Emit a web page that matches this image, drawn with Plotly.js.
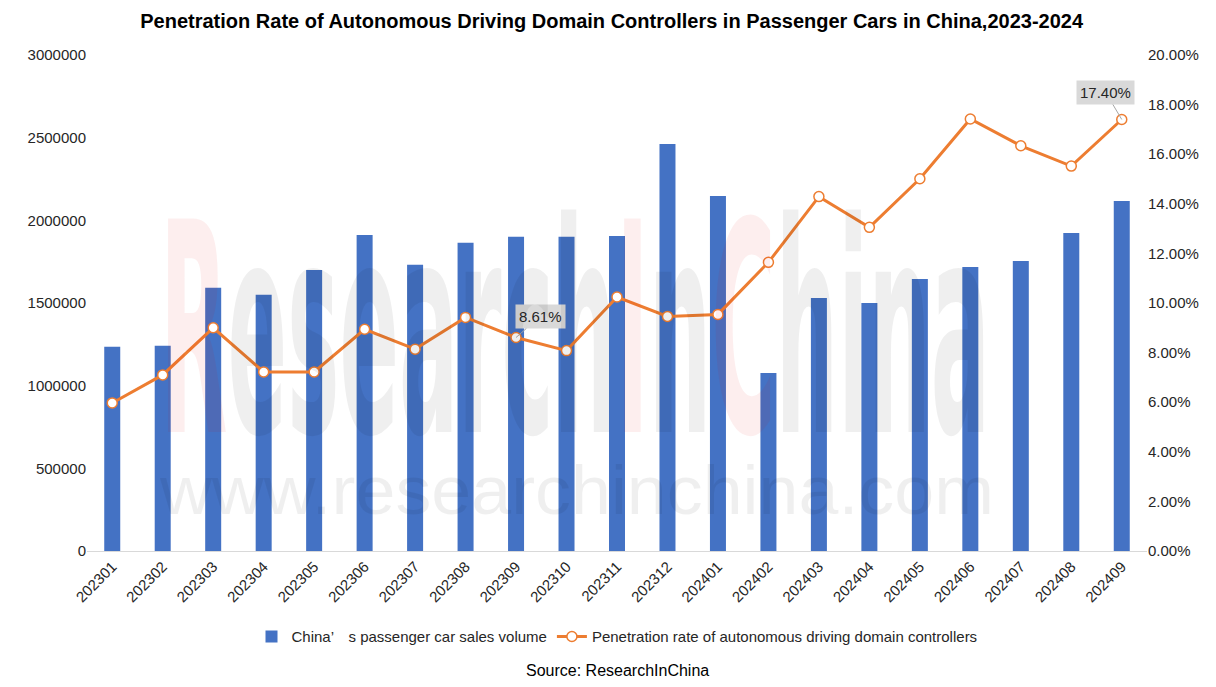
<!DOCTYPE html>
<html>
<head>
<meta charset="utf-8">
<script src="https://cdn.plot.ly/plotly-3.0.1.min.js"></script>
<style>
  html, body { margin: 0; padding: 0; background: #fff; }
  #wrap { position: relative; width: 1216px; height: 687px; }
  #chart { position: absolute; left: 0; top: 0; width: 1216px; height: 687px; }
  #wm { position: absolute; left: 0; top: 0; width: 1216px; height: 687px; pointer-events: none; }
</style>
</head>
<body>
<div id="wrap">
  <div id="chart"></div>
  <svg id="wm" width="1216" height="687" xmlns="http://www.w3.org/2000/svg">
    <text x="160" y="432" textLength="830" lengthAdjust="spacingAndGlyphs"
          font-family="DejaVu Sans Condensed, DejaVu Sans" font-weight="bold" font-size="293"><tspan fill="rgba(220,0,0,0.065)">R</tspan><tspan fill="rgba(0,0,0,0.063)">esearch</tspan><tspan fill="rgba(220,0,0,0.065)">I</tspan><tspan fill="rgba(0,0,0,0.063)">n</tspan><tspan fill="rgba(220,0,0,0.065)">C</tspan><tspan fill="rgba(0,0,0,0.063)">hina</tspan></text>
    <text x="160" y="514" textLength="834" lengthAdjust="spacingAndGlyphs"
          font-family="Liberation Sans, Arial" font-size="68" fill="rgba(0,0,0,0.063)">www.researchinchina.com</text>
  </svg>
</div>
<script>
const categories = ['202301','202302','202303','202304','202305','202306','202307','202308','202309','202310','202311','202312',
                    '202401','202402','202403','202404','202405','202406','202407','202408','202409'];
const salesVolume = [1235000,1242000,1592000,1550000,1700000,1912000,1731000,1864000,1900000,1900000,1905000,2462000,
                     2147000,1077000,1530000,1500000,1645000,1718000,1754000,1923000,2117000];
const penetrationRate = [0.0597,0.0710,0.0900,0.0722,0.0722,0.0894,0.0814,0.0942,0.0861,0.0808,0.1024,0.0946,
                         0.0954,0.1164,0.1429,0.1305,0.1501,0.1742,0.1634,0.1552,0.1740];
const calloutCats = ['202309','202409'];
const calloutVals = [0.0861,0.1740];
const calloutText = ['8.61%','17.40%'];
const seriesNames = ['China\u2019\u3000s passenger car sales volume', 'Penetration rate of autonomous driving domain controllers'];
const titleText = 'Penetration Rate of Autonomous Driving Domain Controllers in Passenger Cars in China,2023-2024';
const sourceText = 'Source: ResearchInChina';

const FONT = 'Liberation Sans, Arial, sans-serif';
const TXT = '#262626';

const traces = [
  {
    type: 'bar', name: seriesNames[0], x: categories, y: salesVolume,
    marker: { color: '#4472C4' }, yaxis: 'y', hoverinfo: 'x+y'
  },
  {
    type: 'scatter', mode: 'lines+markers', name: seriesNames[1], x: categories, y: penetrationRate,
    yaxis: 'y2',
    line: { color: '#ED7D31', width: 3 },
    marker: { size: 10, color: '#ffffff', line: { color: '#ED7D31', width: 1.5 } }
  }
];

const offsets = [[24, -21], [-16, -27]];
const annotations = calloutCats.map((c, i) => ({
  x: categories.indexOf(c), y: calloutVals[i], xref: 'x', yref: 'y2',
  text: calloutText[i], showarrow: true, arrowhead: 0, arrowwidth: 1, arrowcolor: '#a6a6a6',
  ax: offsets[i][0], ay: offsets[i][1],
  bgcolor: '#d9d9d9', borderpad: 3,
  font: { family: FONT, size: 15, color: TXT }
}));
annotations.push({
  text: sourceText, xref: 'paper', yref: 'paper', x: 0.5, y: -0.24,
  xanchor: 'center', yanchor: 'middle', showarrow: false,
  font: { family: FONT, size: 16, color: '#000' }
});

const layout = {
  width: 1216, height: 687,
  margin: { l: 87, r: 69, t: 55, b: 136 },
  paper_bgcolor: 'rgba(0,0,0,0)', plot_bgcolor: 'rgba(0,0,0,0)',
  title: {
    text: '<b>' + titleText + '</b>',
    x: 0.503, xref: 'container', xanchor: 'center',
    y: 1 - 21 / 687, yref: 'container', yanchor: 'middle',
    font: { family: FONT, size: 20, color: '#000' }
  },
  bargap: 0.683,
  showlegend: true,
  legend: {
    orientation: 'h', x: 0.5, xanchor: 'center', y: -0.173, yanchor: 'middle',
    font: { family: FONT, size: 15, color: TXT }, traceorder: 'normal'
  },
  xaxis: {
    type: 'category', range: [-0.5, categories.length - 0.5], autorange: false,
    tickangle: -45, showline: true, linecolor: '#d9d9d9', linewidth: 1,
    showgrid: false, ticks: '', tickfont: { family: FONT, size: 15, color: TXT }, zeroline: false
  },
  yaxis: {
    range: [0, 3000000], dtick: 500000, tickformat: 'd', showgrid: false, zeroline: false,
    showline: false, ticks: '', ticklen: 0, tickfont: { family: FONT, size: 15, color: TXT }
  },
  yaxis2: {
    overlaying: 'y', side: 'right', range: [0, 0.2], dtick: 0.02, tickformat: '.2%',
    showgrid: false, zeroline: false, showline: false, ticks: '',
    tickfont: { family: FONT, size: 15, color: TXT }
  },
  annotations: annotations
};

Plotly.newPlot('chart', traces, layout, { displayModeBar: false, staticPlot: true });
</script>
</body>
</html>
